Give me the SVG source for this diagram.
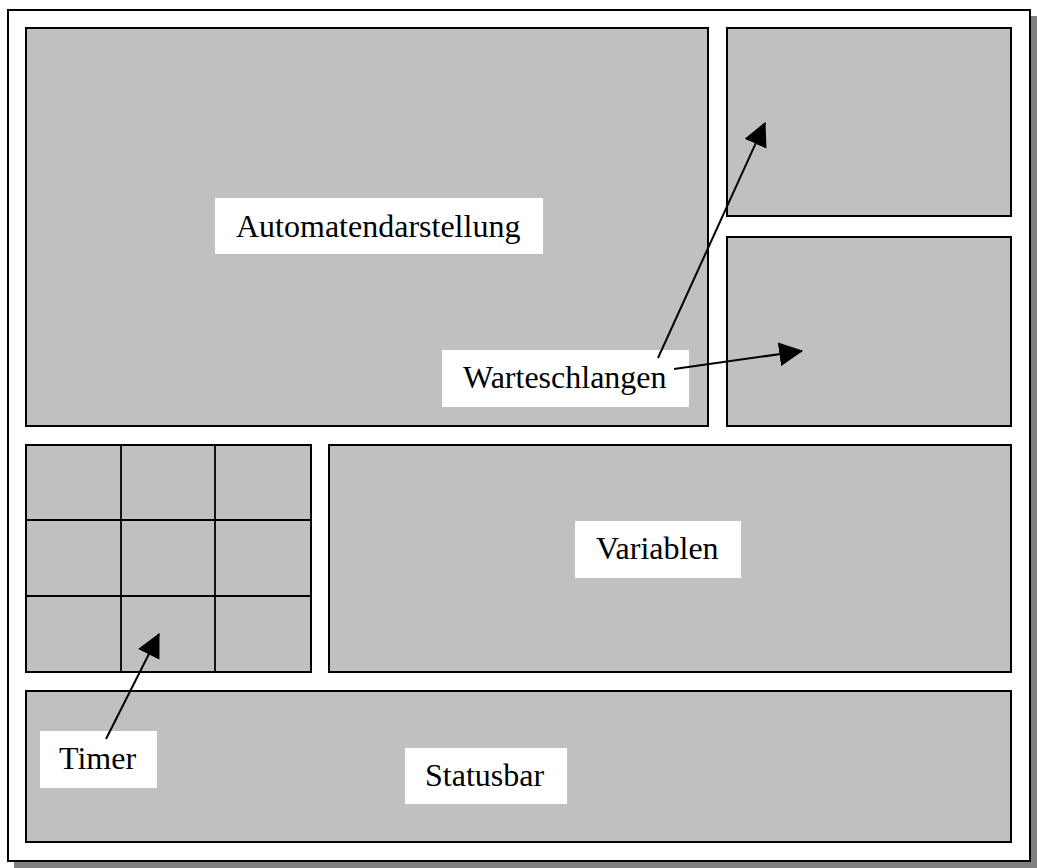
<svg xmlns="http://www.w3.org/2000/svg" width="1037" height="868" viewBox="0 0 1037 868">
  <style>
    .panel { fill: #c0c0c0; stroke: #000; stroke-width: 2; }
    .grid { stroke: #000; stroke-width: 1.8; fill: none; }
    .tag { fill: #fff; stroke: none; }
    .lbl { font-family: "Liberation Serif", "Times New Roman", serif; font-size: 32px; fill: #000; }
    .conn { stroke: #000; stroke-width: 2; fill: none; marker-end: url(#head); }
  </style>
  <defs>
    <marker id="head" markerUnits="userSpaceOnUse" markerWidth="24" markerHeight="24" viewBox="0 0 20 20" refX="19" refY="10" orient="auto">
      <path d="M0,0 L20,10 L0,20 Z" fill="#000"/>
    </marker>
  </defs>

  <!-- window frame with drop shadow -->
  <g id="frame">
    <rect x="14" y="16" width="1023" height="852" fill="#808080"/>
    <rect x="8" y="10" width="1022" height="851" fill="#fff" stroke="#000" stroke-width="2"/>
  </g>

  <g id="automatendarstellung">
    <rect class="panel" x="26" y="28" width="682" height="398"/>
    <rect class="tag" x="215" y="198" width="328" height="56"/>
    <text class="lbl" x="236" y="237">Automatendarstellung</text>
  </g>

  <g id="queue-top">
    <rect class="panel" x="727" y="28" width="284" height="188"/>
  </g>

  <g id="queue-bottom">
    <rect class="panel" x="727" y="237" width="284" height="189"/>
  </g>

  <g id="timer-grid">
    <rect class="panel" x="26" y="445" width="285" height="227"/>
    <line class="grid" x1="121" y1="445" x2="121" y2="672"/>
    <line class="grid" x1="215" y1="445" x2="215" y2="672"/>
    <line class="grid" x1="26" y1="520" x2="311" y2="520"/>
    <line class="grid" x1="26" y1="596" x2="311" y2="596"/>
  </g>

  <g id="variablen">
    <rect class="panel" x="329" y="445" width="682" height="227"/>
    <rect class="tag" x="575" y="521" width="166" height="57"/>
    <text class="lbl" x="596" y="559">Variablen</text>
  </g>

  <g id="statusbar">
    <rect class="panel" x="26" y="691" width="985" height="151"/>
    <rect class="tag" x="405" y="748" width="162" height="56"/>
    <text class="lbl" x="425" y="786">Statusbar</text>
  </g>

  <g id="warteschlangen">
    <rect class="tag" x="442" y="350" width="247" height="57"/>
    <text class="lbl" x="463" y="388">Warteschlangen</text>
  </g>

  <g id="timer">
    <rect class="tag" x="40" y="731" width="117" height="57"/>
    <text class="lbl" x="59" y="769">Timer</text>
  </g>

  <g id="connectors">
    <line class="conn" x1="658" y1="358" x2="765" y2="123"/>
    <line class="conn" x1="674" y1="369" x2="802" y2="351"/>
    <line class="conn" x1="106" y1="739" x2="159" y2="634"/>
  </g>
</svg>
